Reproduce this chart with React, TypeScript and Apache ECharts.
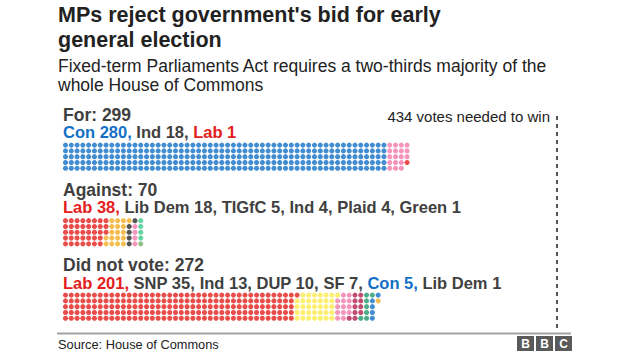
import React, { useEffect, useRef } from 'react';
import * as echarts from 'echarts';

const TITLE_LINES = ["MPs reject government's bid for early", 'general election'];
const SUBTITLE_LINES = ['Fixed-term Parliaments Act requires a two-thirds majority of the', 'whole House of Commons'];
const SOURCE = 'Source: House of Commons';
const THRESHOLD_LABEL = '434 votes needed to win';
const VOTES_NEEDED = 434;
const DOTS_PER_COLUMN = 5;

const BLOCK_NAMES = ['For', 'Against', 'Did not vote'];
const FOR_PARTIES = ['Con', 'Ind', 'Lab'];
const FOR_SEATS = [280, 18, 1];
const AGAINST_PARTIES = ['Lab', 'Lib Dem', 'TIGfC', 'Ind', 'Plaid', 'Green'];
const AGAINST_SEATS = [38, 18, 5, 4, 4, 1];
const DNV_PARTIES = ['Lab', 'SNP', 'Ind', 'DUP', 'SF', 'Con', 'Lib Dem'];
const DNV_SEATS = [201, 35, 13, 10, 7, 5, 1];

const PARTY_COLORS: Record<string, string> = {
  Con: '#1370c6',
  Lab: '#e3201b',
  Ind: '#f27aab',
  'Lib Dem': '#f3ac20',
  TIGfC: '#2a2a2a',
  Plaid: '#3cc88a',
  Green: '#74ad66',
  SNP: '#fbeb4b',
  DUP: '#b01f4e',
  SF: '#1f9a6a',
};
const TEXT_HIGHLIGHT: Record<string, string> = { Con: '#1370c6', Lab: '#e3201b' };
const GREY = '#404040';
const FONT = '"Liberation Sans", Arial, Helvetica, sans-serif';

// layout
const PITCH = 5.79;
const THRESHOLD_PITCH = 5.69;
const DOT = 5.1;
const GRID_LEFT = 62.6;
const XMAX = 90;
const HEADER_Y = [115.2, 190.2, 264.6];
const SUBLINE_Y = [132.4, 207.4, 282.6];
const DOT_TOPS = [142.2, 217.8, 292.2];
const TEXT_X = 63;

const BLOCKS = [
  { parties: FOR_PARTIES, seats: FOR_SEATS },
  { parties: AGAINST_PARTIES, seats: AGAINST_SEATS },
  { parties: DNV_PARTIES, seats: DNV_SEATS },
];

function font(size: number, weight = 'normal') {
  return `${weight} ${size}px ${FONT}`;
}

function buildOption() {
  const grids: any[] = [];
  const xAxes: any[] = [];
  const yAxes: any[] = [];
  const series: any[] = [];
  const graphic: any[] = [];

  BLOCKS.forEach((blk, b) => {
    grids.push({ left: GRID_LEFT, top: DOT_TOPS[b], width: XMAX * PITCH, height: DOTS_PER_COLUMN * PITCH });
    xAxes.push({ type: 'value', gridIndex: b, min: 0, max: XMAX, show: false });
    yAxes.push({ type: 'value', gridIndex: b, min: 0, max: DOTS_PER_COLUMN, inverse: true, show: false });
    let idx = 0;
    blk.parties.forEach((p, i) => {
      const data: number[][] = [];
      for (let k = 0; k < blk.seats[i]; k++) {
        const col = Math.floor(idx / DOTS_PER_COLUMN);
        const row = idx % DOTS_PER_COLUMN;
        data.push([col + 0.5, row + 0.5]);
        idx++;
      }
      series.push({
        type: 'scatter',
        name: `${BLOCK_NAMES[b]} ${p}`,
        xAxisIndex: b,
        yAxisIndex: b,
        symbol: 'circle',
        symbolSize: DOT,
        silent: true,
        itemStyle: { color: PARTY_COLORS[p] },
        data,
      });
    });
    const total = blk.seats.reduce((a, c) => a + c, 0);
    graphic.push({
      type: 'text',
      x: TEXT_X,
      y: HEADER_Y[b],
      style: {
        text: `${BLOCK_NAMES[b]}: ${total}`,
        font: font(17.5, 'bold'),
        fill: GREY,
        textVerticalAlign: 'middle',
        verticalAlign: 'middle',
      },
    });
    const rich: any = {};
    const parts = blk.parties.map((p, i) => {
      const key = 's' + i;
      rich[key] = {
        font: font(16.5, 'bold'),
        fontSize: 16.5,
        fontWeight: 'bold',
        fontFamily: FONT,
        fill: TEXT_HIGHLIGHT[p] || GREY,
      };
      const comma = i < blk.parties.length - 1 ? ',' : '';
      return `{${key}|${p} ${blk.seats[i]}${comma}}`;
    });
    graphic.push({
      type: 'text',
      x: TEXT_X,
      y: SUBLINE_Y[b],
      style: {
        text: parts.join(' '),
        rich,
        font: font(16.5, 'bold'),
        fill: GREY,
        textVerticalAlign: 'middle',
        verticalAlign: 'middle',
      },
    });
  });

  // threshold grid
  grids.push({ left: GRID_LEFT, top: 112, width: XMAX * THRESHOLD_PITCH, height: 216 });
  xAxes.push({ type: 'value', gridIndex: 3, min: 0, max: XMAX, show: false });
  yAxes.push({ type: 'value', gridIndex: 3, min: 0, max: 1, show: false });
  series.push({
    type: 'line',
    name: 'threshold',
    xAxisIndex: 3,
    yAxisIndex: 3,
    data: [[0, 0]],
    showSymbol: false,
    lineStyle: { width: 0 },
    silent: true,
    markLine: {
      silent: true,
      symbol: ['none', 'none'],
      label: { show: false },
      lineStyle: { color: '#2b2b2b', width: 1.6, type: [4, 4] },
      data: [{ xAxis: VOTES_NEEDED / DOTS_PER_COLUMN }],
    },
  });

  graphic.push(
    {
      type: 'text',
      x: 58,
      y: 2,
      style: {
        text: TITLE_LINES.join('\n'),
        font: font(21.5, 'bold'),
        lineHeight: 25,
        fill: '#222222',
        textVerticalAlign: 'top',
        verticalAlign: 'top',
      },
    },
    {
      type: 'text',
      x: 58,
      y: 57,
      style: {
        text: SUBTITLE_LINES.join('\n'),
        font: font(17.5),
        lineHeight: 18.5,
        fill: '#222222',
        textVerticalAlign: 'top',
        verticalAlign: 'top',
      },
    },
    {
      type: 'text',
      x: 550,
      y: 116,
      style: {
        text: THRESHOLD_LABEL,
        font: font(15),
        fill: '#222222',
        textAlign: 'right',
        align: 'right',
        textVerticalAlign: 'middle',
        verticalAlign: 'middle',
      },
    },
    {
      type: 'line',
      shape: { x1: 57, y1: 333.5, x2: 571, y2: 333.5 },
      style: { stroke: '#a3a3a3', lineWidth: 2 },
    },
    {
      type: 'text',
      x: 58,
      y: 344,
      style: {
        text: SOURCE,
        font: font(12.8),
        fill: '#222222',
        textVerticalAlign: 'middle',
        verticalAlign: 'middle',
      },
    }
  );
  ['B', 'B', 'C'].forEach((ch, i) => {
    const x = 517 + i * 19;
    graphic.push({
      type: 'rect',
      shape: { x, y: 336, width: 17, height: 15 },
      style: { fill: '#5a5a5a' },
    });
    graphic.push({
      type: 'text',
      x: x + 8.5,
      y: 343.8,
      style: {
        text: ch,
        font: font(12, 'bold'),
        fill: '#ffffff',
        textAlign: 'center',
        align: 'center',
        textVerticalAlign: 'middle',
        verticalAlign: 'middle',
      },
    });
  });

  return {
    animation: false,
    backgroundColor: '#ffffff',
    grid: grids,
    xAxis: xAxes,
    yAxis: yAxes,
    series,
    graphic,
  };
}

export default function App() {
  const ref = useRef<HTMLDivElement>(null);
  useEffect(() => {
    if (!ref.current) return;
    const chart = echarts.init(ref.current, undefined, { renderer: 'svg' });
    chart.setOption(buildOption() as any);
    return () => chart.dispose();
  }, []);
  return (
    <div
      ref={ref}
      style={{ position: 'fixed', left: 0, top: 0, width: 624, height: 351, background: '#fff' }}
    />
  );
}
